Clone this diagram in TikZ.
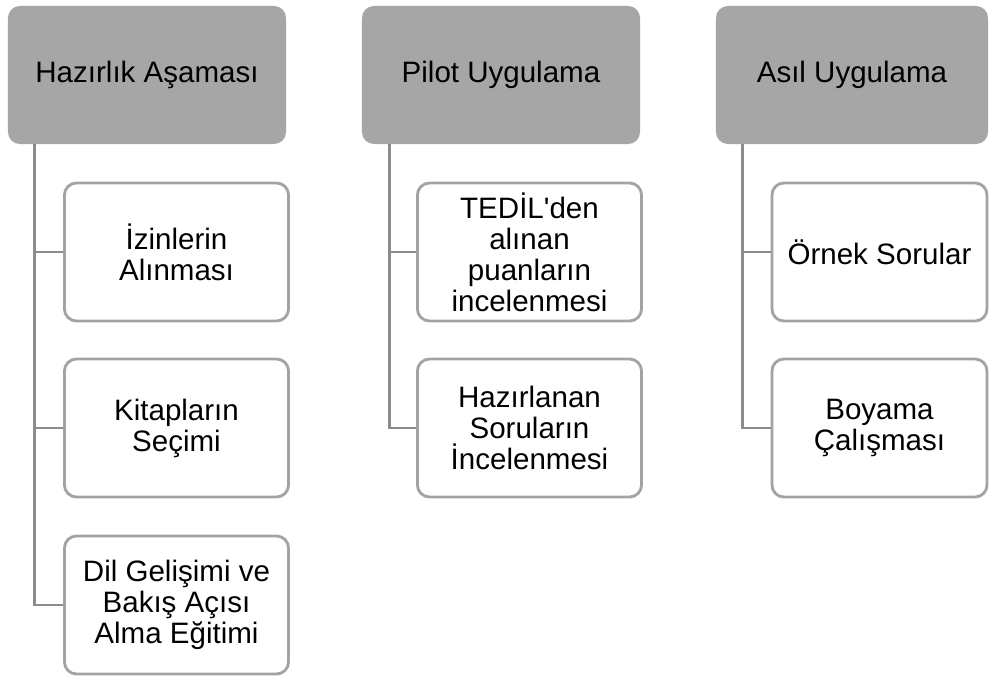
\documentclass[tikz,border=0pt]{standalone}
\usepackage{fontspec}
\setmainfont{Liberation Sans}
\usepackage{xcolor}
\definecolor{headgray}{HTML}{A6A6A6}
\definecolor{boxgray}{HTML}{A3A3A3}
\definecolor{linegray}{HTML}{8C8C8C}
\begin{document}
\begin{tikzpicture}[x=0.025cm,y=-0.025cm,
  head/.style={rectangle,rounded corners=0.3cm,fill=headgray,minimum height=3.45cm,
    align=center,font=\fontsize{21}{24}\selectfont},
  leaf/.style={rectangle,rounded corners=0.3cm,draw=boxgray,line width=2pt,fill=white,
    minimum width=5.6cm,minimum height=3.45cm,align=center,font=\fontsize{21}{22}\selectfont},
  link/.style={draw=linegray,line width=2pt}]
\useasboundingbox (0,0) rectangle (989,677);
\node (A) at (147,75) [head,minimum width=6.95cm] {Hazırlık Aşaması};
\node (B) at (501,75) [head,minimum width=6.95cm] {Pilot Uygulama};
\node (C) at (852,75) [head,minimum width=6.8cm] {Asıl Uygulama};
\node (A1) at (176.5,252) [leaf] {İzinlerin\\Alınması};
\node (A2) at (176.5,428) [leaf] {Kitapların\\Seçimi};
\node (A3) at (176.5,605) [leaf] {Dil Gelişimi ve\\Bakış Açısı\\Alma Eğitimi};
\node (B1) at (529.5,252) [leaf] {TEDİL\textquotesingle den\\alınan\\puanların\\incelenmesi};
\node (B2) at (529.5,428) [leaf] {Hazırlanan\\Soruların\\İncelenmesi};
\node (C1) at (879.5,252) [leaf,minimum width=5.375cm] {Örnek Sorular};
\node (C2) at (879.5,428) [leaf,minimum width=5.375cm] {Boyama\\Çalışması};
\draw[link] (A.south west) ++(27,0) |- (A1.west);
\draw[link] (A.south west) ++(27,0) |- (A2.west);
\draw[link] (A.south west) ++(27,0) |- (A3.west);
\draw[link] (B.south west) ++(28,0) |- (B1.west);
\draw[link] (B.south west) ++(28,0) |- (B2.west);
\draw[link] (C.south west) ++(27,0) |- (C1.west);
\draw[link] (C.south west) ++(27,0) |- (C2.west);
\end{tikzpicture}
\end{document}
